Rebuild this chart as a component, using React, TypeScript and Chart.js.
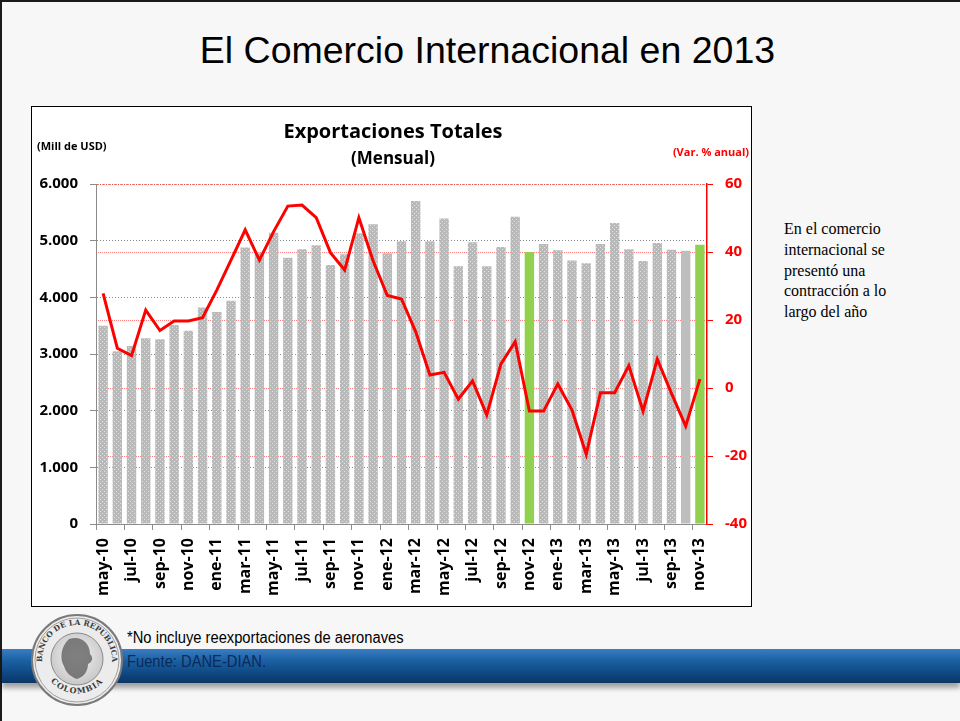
import React, { useEffect, useRef } from "react";
import { Chart, registerables } from "chart.js";

Chart.register(...registerables);

const months = [
  "may-10", "jun-10", "jul-10", "ago-10", "sep-10", "oct-10", "nov-10", "dic-10",
  "ene-11", "feb-11", "mar-11", "abr-11", "may-11", "jun-11", "jul-11", "ago-11",
  "sep-11", "oct-11", "nov-11", "dic-11", "ene-12", "feb-12", "mar-12", "abr-12",
  "may-12", "jun-12", "jul-12", "ago-12", "sep-12", "oct-12", "nov-12", "dic-12",
  "ene-13", "feb-13", "mar-13", "abr-13", "may-13", "jun-13", "jul-13", "ago-13",
  "sep-13", "oct-13", "nov-13",
];

const exportsMillUSD = [
  3500, 3050, 3140, 3280, 3260, 3510, 3410, 3820,
  3740, 3940, 4880, 4790, 5140, 4700, 4850, 4920,
  4570, 4760, 5130, 5290, 4780, 4990, 5700, 4990,
  5390, 4550, 4970, 4550, 4890, 5420, 4800, 4940,
  4830, 4650, 4600, 4940, 5310, 4850, 4640, 4960,
  4840, 4820, 4930,
];

const annualVarPct = [
  27.8, 11.7, 9.5, 22.9, 16.9, 19.7, 19.7, 20.7,
  28.8, 37.6, 46.5, 37.6, 46.0, 53.5, 53.8, 50.1,
  39.8, 34.7, 50.1, 37.4, 27.2, 26.2, 16.5, 3.8,
  4.6, -3.3, 2.1, -7.9, 7.1, 13.6, -6.8, -6.8,
  1.2, -6.5, -19.5, -1.4, -1.4, 6.6, -6.8, 8.5,
  -1.6, -11.2, 2.6,
];

const highlightedMonths = ["nov-12", "nov-13"];
const plainMonths = ["oct-13"];

const leftTicks = [0, 1000, 2000, 3000, 4000, 5000, 6000];
const rightTicks = [-40, -20, 0, 20, 40, 60];

const FONT = "'Open Sans', 'DejaVu Sans', sans-serif";

function fmtThousands(v: number): string {
  if (v === 0) return "0";
  const s = String(Math.round(v));
  return s.replace(/\B(?=(\d{3})+(?!\d))/g, ".");
}

function makePattern(): CanvasPattern | string {
  const c = document.createElement("canvas");
  c.width = 4;
  c.height = 4;
  const g = c.getContext("2d");
  if (!g) return "#bdbdbd";
  g.fillStyle = "#b9b9b9";
  g.fillRect(0, 0, 4, 4);
  g.fillStyle = "#e2e2e2";
  g.fillRect(0, 0, 1, 1);
  g.fillRect(2, 2, 1, 1);
  const p = g.createPattern(c, "repeat");
  return p || "#bdbdbd";
}

function ChartBox() {
  const ref = useRef<HTMLCanvasElement | null>(null);
  useEffect(() => {
    if (!ref.current) return;
    const pattern = makePattern();
    const colors = months.map((m) =>
      highlightedMonths.includes(m) ? "#92d050" : plainMonths.includes(m) ? "#bebebe" : pattern
    );
    const chart = new Chart(ref.current, {
      type: "bar",
      data: {
        labels: months,
        datasets: [
          {
            type: "line",
            label: "Var. % anual",
            data: annualVarPct,
            yAxisID: "y1",
            borderColor: "#ff0000",
            borderWidth: 3,
            pointRadius: 0,
            tension: 0,
            order: 0,
          } as any,
          {
            type: "bar",
            label: "Exportaciones",
            data: exportsMillUSD,
            yAxisID: "y",
            backgroundColor: colors as any,
            borderWidth: 0,
            categoryPercentage: 1,
            barPercentage: 0.66,
            order: 1,
          } as any,
        ],
      },
      options: {
        responsive: false,
        animation: false,
        layout: { padding: { top: 77, left: 0, right: 0, bottom: 0 } },
        plugins: {
          legend: { display: false },
          tooltip: { enabled: false },
          title: { display: false },
        },
        scales: {
          x: {
            type: "category",
            offset: true,
            afterFit: (s: any) => {
              s.height = 82;
            },
            grid: {
              offset: true,
              drawOnChartArea: false,
              drawTicks: true,
              tickLength: 6,
              color: (ctx: any) => (ctx.index % 2 === 0 ? "#8c8c8c" : "rgba(0,0,0,0)"),
            },
            border: { display: true, color: "#8c8c8c", width: 1 },
            ticks: {
              autoSkip: false,
              minRotation: 90,
              maxRotation: 90,
              padding: 8,
              color: "#000000",
              font: { family: FONT, size: 16, weight: "bold" },
              callback: (_v: any, i: number) => (i % 2 === 0 ? months[i] : ""),
            },
          },
          y: {
            type: "linear",
            position: "left",
            min: 0,
            max: 6000,
            afterFit: (s: any) => {
              s.width = 64;
            },
            afterBuildTicks: (s: any) => {
              s.ticks = leftTicks.map((v) => ({ value: v }));
            },
            grid: {
              color: "#8a8a8a",
              lineWidth: 1,
              drawTicks: true,
              tickLength: 6,
              tickColor: "#8a8a8a",
              tickBorderDash: [],
            },
            border: { display: true, color: "#8a8a8a", width: 1, dash: [1, 2] },
            ticks: {
              padding: 12,
              color: "#000000",
              font: { family: FONT, size: 15, weight: "bold" },
              callback: (v: any) => fmtThousands(Number(v)),
            },
          },
          y1: {
            type: "linear",
            position: "right",
            min: -40,
            max: 60,
            afterFit: (s: any) => {
              s.width = 44;
            },
            afterBuildTicks: (s: any) => {
              s.ticks = rightTicks.map((v) => ({ value: v }));
            },
            grid: {
              color: "rgba(255,40,40,0.6)",
              lineWidth: 1,
              drawTicks: true,
              tickLength: 6,
              tickColor: "#ff0000",
              tickBorderDash: [],
            },
            border: { display: true, color: "#ff0000", width: 1.5, dash: [1, 1] },
            ticks: {
              padding: 12,
              color: "#ff0000",
              font: { family: FONT, size: 15, weight: "bold" },
              callback: (v: any) => String(v),
            },
          },
        },
      } as any,
    });
    return () => chart.destroy();
  }, []);

  return (
    <div
      style={{
        position: "absolute",
        left: 31,
        top: 106,
        width: 719,
        height: 499,
        border: "1px solid #000",
        background: "#ffffff",
      }}
    >
      <canvas
        ref={ref}
        width={719}
        height={499}
        style={{ position: "absolute", left: 0, top: 0, width: 719, height: 499 }}
      />
      <div
        style={{
          position: "absolute",
          left: 0,
          width: 722,
          top: 11,
          textAlign: "center",
          fontFamily: FONT,
          fontWeight: 700,
          fontSize: 20,
          color: "#000",
          lineHeight: "26px",
        }}
      >
        Exportaciones Totales
      </div>
      <div
        style={{
          position: "absolute",
          left: 0,
          width: 722,
          top: 39,
          textAlign: "center",
          fontFamily: FONT,
          fontWeight: 700,
          fontSize: 17,
          color: "#000",
          lineHeight: "24px",
        }}
      >
        (Mensual)
      </div>
      <div
        style={{
          position: "absolute",
          left: 5,
          top: 31,
          fontFamily: FONT,
          fontWeight: 700,
          fontSize: 11,
          color: "#000",
          lineHeight: "16px",
        }}
      >
        (Mill de USD)
      </div>
      <div
        style={{
          position: "absolute",
          right: 2,
          top: 37,
          fontFamily: FONT,
          fontWeight: 700,
          fontSize: 11,
          color: "#ff0000",
          lineHeight: "16px",
        }}
      >
        (Var. % anual)
      </div>
    </div>
  );
}

function Logo() {
  return (
    <svg
      width={96}
      height={96}
      viewBox="0 0 96 96"
      style={{ position: "absolute", left: 29, top: 612 }}
    >
      <defs>
        <path id="arcTop" d="M 17.7 65.5 A 35 35 0 1 1 78.3 65.5" />
        <path id="arcBot" d="M 19 66 A 35 35 0 0 0 77 66" />
        <radialGradient id="lg" cx="50%" cy="45%" r="60%">
          <stop offset="0%" stopColor="#f4f4f4" />
          <stop offset="100%" stopColor="#c4c4c4" />
        </radialGradient>
      </defs>
      <circle cx={48} cy={48} r={45} fill="#ececec" stroke="#7a7a7a" strokeWidth={2} />
      <circle cx={48} cy={48} r={42} fill="none" stroke="#a0a0a0" strokeWidth={1} />
      <circle cx={48} cy={47} r={26} fill="url(#lg)" stroke="#8a8a8a" strokeWidth={1} />
      <path
        d="M 40 27 C 52 23 61 31 61 42 C 65 46 63 50 59 52 C 59 59 55 65 48 67 C 42 65 37 61 35 54 C 31 48 31 35 40 27 Z"
        fill="#5a5a5a"
        opacity={0.75}
      />
      <text fontFamily="'DejaVu Serif', serif" fontWeight={700} fontSize={7.5} fill="#3c3c3c">
        <textPath href="#arcTop" startOffset="50%" textAnchor="middle">
          BANCO DE LA REPUBLICA
        </textPath>
      </text>
      <text fontFamily="'DejaVu Serif', serif" fontWeight={700} fontSize={8} fill="#3c3c3c" letterSpacing={1}>
        <textPath href="#arcBot" startOffset="50%" textAnchor="middle">
          COLOMBIA
        </textPath>
      </text>
    </svg>
  );
}

export default function App() {
  return (
    <div
      style={{
        position: "fixed",
        left: 0,
        top: 0,
        width: 960,
        height: 721,
        background: "#f7f7f7",
        overflow: "hidden",
        fontFamily: "'Liberation Sans', Arial, sans-serif",
      }}
    >
      <div style={{ position: "absolute", left: 0, top: 0, width: 960, height: 2, background: "#1a1a1a" }} />
      <div style={{ position: "absolute", left: 0, top: 0, width: 2, height: 721, background: "#1a1a1a" }} />
      <div
        style={{
          position: "absolute",
          left: 0,
          width: 975,
          top: 28,
          textAlign: "center",
          fontSize: 37.5,
          color: "#000",
          lineHeight: "44px",
          whiteSpace: "nowrap",
        }}
      >
        El Comercio Internacional en 2013
      </div>
      <ChartBox />
      <div
        style={{
          position: "absolute",
          left: 784,
          top: 219,
          width: 138,
          fontFamily: "'Liberation Serif', 'Times New Roman', serif",
          fontSize: 16,
          lineHeight: "20.8px",
          color: "#000",
        }}
      >
        En el comercio internacional se presentó una contracción a lo largo del año
      </div>
      <div
        style={{
          position: "absolute",
          left: 2,
          top: 649,
          width: 958,
          height: 34,
          background: "linear-gradient(to bottom, #3a7dc2 0%, #1b5fa3 35%, #0e467f 75%, #0b3566 100%)",
          boxShadow: "0 5px 5px rgba(0,0,0,0.35)",
        }}
      />
      <Logo />
      <div
        style={{
          position: "absolute",
          left: 127,
          top: 628,
          fontSize: 16,
          color: "#000",
          lineHeight: "20px",
          transform: "scaleX(0.92)",
          transformOrigin: "left top",
          whiteSpace: "nowrap",
        }}
      >
        *No incluye reexportaciones de aeronaves
      </div>
      <div
        style={{
          position: "absolute",
          left: 127,
          top: 652,
          fontSize: 16,
          color: "#0b2a5a",
          lineHeight: "20px",
          transform: "scaleX(0.92)",
          transformOrigin: "left top",
          whiteSpace: "nowrap",
        }}
      >
        Fuente: DANE-DIAN.
      </div>
    </div>
  );
}
